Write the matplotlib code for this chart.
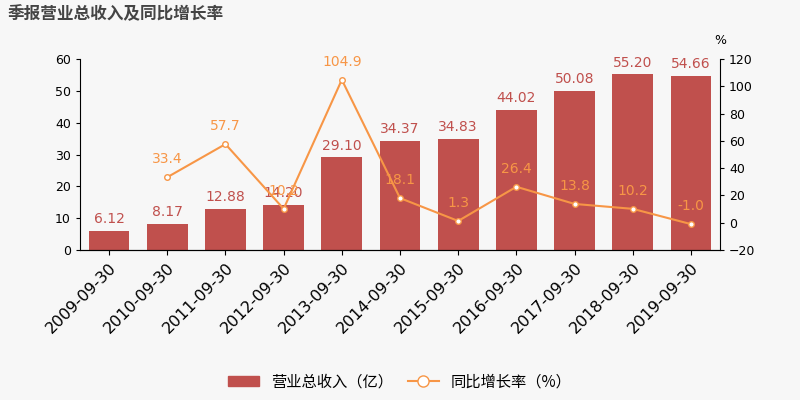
import numpy as np
import matplotlib
matplotlib.use('Agg')
import matplotlib.pyplot as plt
from matplotlib.lines import Line2D
from matplotlib.patches import Patch

plt.rcParams['font.family'] = ['DejaVu Sans', 'Noto Sans CJK SC']

dates = ['2009-09-30', '2010-09-30', '2011-09-30', '2012-09-30', '2013-09-30', '2014-09-30',
         '2015-09-30', '2016-09-30', '2017-09-30', '2018-09-30', '2019-09-30']
revenue = [6.12, 8.17, 12.88, 14.20, 29.10, 34.37, 34.83, 44.02, 50.08, 55.20, 54.66]
growth = [np.nan, 33.4, 57.7, 10.2, 104.9, 18.1, 1.3, 26.4, 13.8, 10.2, -1.0]

bar_c = '#c0504d'
line_c = '#f79646'
bg = '#f7f7f7'

fig = plt.figure(figsize=(8, 4), dpi=100, facecolor=bg)
ax = fig.add_axes([0.1, 0.375, 0.8, 0.477])
ax.set_facecolor(bg)
x = np.arange(len(dates))
ax.bar(x, revenue, width=0.7, color=bar_c)
for i, v in enumerate(revenue):
    ax.text(i, v + 1.5, f'{v:.2f}', ha='center', va='bottom', color=bar_c, fontsize=10)
ax.set_ylim(0, 60)
ax.set_yticks(range(0, 61, 10))
ax.set_xlim(-0.5, len(dates) - 0.5)
ax.set_xticks(x)
ax.set_xticklabels(dates, rotation=45, ha='right', rotation_mode='anchor', fontsize=11.5)
ax.tick_params(axis='y', labelsize=9, length=3)
for s in ['top', 'right']:
    ax.spines[s].set_visible(False)

ax2 = ax.twinx()
ax2.plot(x, growth, color=line_c, marker='o', markersize=4, markerfacecolor='white', lw=1.5)
for i, v in enumerate(growth):
    if not np.isnan(v):
        ax2.text(i, v + 8, f'{v:.1f}', ha='center', va='bottom', color=line_c, fontsize=10)
ax2.set_ylim(-20, 120)
ax2.set_yticks(range(-20, 121, 20))
ax2.tick_params(axis='y', labelsize=9, length=3)
for s in ['top', 'left']:
    ax2.spines[s].set_visible(False)
ax2.text(1.0, 1.08, '%', transform=ax2.transAxes, ha='center', fontsize=9)

fig.text(0.01, 0.965, '季报营业总收入及同比增长率', fontsize=12, fontweight='bold', color='#444444',
         va='center', family='Noto Sans CJK SC')

handles = [Patch(color=bar_c), Line2D([], [], color=line_c, marker='o', markerfacecolor='white', markersize=8)]
fig.legend(handles, ['营业总收入（亿）', '同比增长率（%）'], loc='lower center', ncol=2,
           frameon=False, fontsize=11, bbox_to_anchor=(0.5, -0.01), handlelength=2,
           columnspacing=1.0, prop={'family': 'Noto Sans CJK SC', 'size': 11})

fig.savefig('out.png', dpi=100, facecolor=bg)
